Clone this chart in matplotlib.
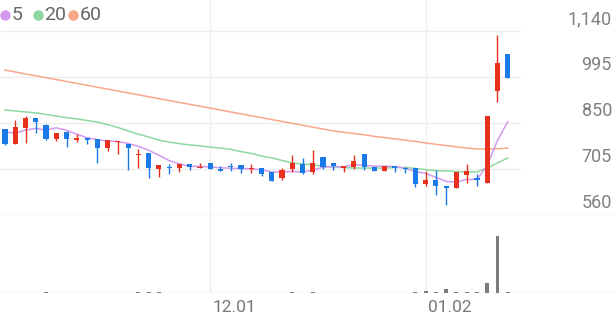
import matplotlib.pyplot as plt
import matplotlib.transforms as mtransforms
import numpy as np

plt.rcParams['font.family'] = ['Roboto', 'DejaVu Sans']

# daily candles, oldest first
opens = [831, 784, 834, 866, 844, 800, 822, 797, 803, 800,
         771, 790, 784, 749, 755, 705, 711, 708, 721, 708,
         724, 705, 715, 718, 705, 708, 696, 677, 705, 721,
         696, 743, 724, 708, 711, 752, 711, 699, 715, 708,
         708, 658, 670, 651, 645, 686, 677, 661, 951, 1067]
highs = [831, 859, 872, 866, 847, 818, 825, 815, 803, 800,
         796, 793, 784, 768, 755, 718, 721, 721, 721, 724,
         724, 715, 724, 718, 721, 708, 696, 708, 749, 740,
         765, 743, 724, 715, 749, 752, 711, 715, 715, 711,
         708, 699, 702, 651, 696, 721, 689, 872, 1127, 1067]
lows = [781, 784, 787, 818, 796, 793, 774, 790, 784, 724,
        762, 752, 702, 708, 677, 680, 689, 696, 702, 708,
        705, 699, 699, 692, 692, 683, 667, 670, 696, 689,
        689, 705, 702, 696, 705, 702, 699, 699, 696, 692,
        648, 651, 623, 592, 645, 661, 651, 661, 917, 992]
closes = [784, 837, 866, 853, 800, 818, 800, 803, 797, 771,
          796, 793, 771, 752, 708, 718, 708, 721, 711, 711,
          705, 699, 711, 705, 708, 689, 667, 702, 724, 692,
          724, 711, 715, 715, 730, 711, 699, 715, 708, 705,
          658, 670, 651, 645, 696, 699, 670, 872, 1039, 992]
volumes = [70, 60, 80, 70, 110, 70, 70, 60, 70, 80,
           70, 60, 70, 100, 110, 90, 60, 70, 60, 60,
           60, 60, 60, 70, 60, 80, 70, 80, 90, 80,
           100, 70, 60, 60, 70, 80, 60, 70, 60, 70,
           170, 270, 130, 400, 170, 100, 100, 1000, 5730, 130]

# moving averages (5-day computed, first four)
ma5_head = [822, 818, 828, 833]
ma20 = [891, 888, 885, 882, 877, 872, 867, 863, 858, 853,
        845, 836, 825, 815, 806, 796, 790, 785, 781, 778,
        774, 771, 767, 760, 754, 746, 740, 732, 724, 721,
        718, 714, 711, 710, 708, 708, 708, 708, 710, 710,
        707, 703, 700, 699, 697, 696, 696, 708, 724, 740]
ma60 = [1017, 1011, 1005, 999, 993, 987, 981, 975, 969, 963,
        957, 951, 945, 939, 933, 927, 921, 915, 909, 903,
        897, 891, 885, 879, 873, 867, 861, 855, 849, 843,
        837, 831, 825, 821, 817, 813, 808, 804, 800, 796,
        792, 787, 783, 779, 775, 771, 768, 768, 769, 771]

price_ticks = [560, 705, 850, 995, 1140]
date_ticks = [20, 41]
date_labels = ['12.01', '01.02']

ma_names = ['5', '20', '60']
ma_colors = ['#d49af0', '#8cd8a0', '#f8a888']
up_color = '#e8301c'
down_color = '#1a7ae8'

n = len(closes)
x = np.arange(n)
o = np.array(opens)
c = np.array(closes)
ma5 = list(ma5_head) + [np.mean(c[i - 4:i + 1]) for i in range(4, n)]

W, H = 616, 321
step = 10.26
xlim = (-5 / step, (W - 5) / step)

fig = plt.figure(figsize=(W / 100, H / 100), dpi=100)
ax = fig.add_axes([0, 1 - 215 / H, 1, 215 / H])
axv = fig.add_axes([0, 1 - 293.3 / H, 1, (293.3 - 215) / H])

for a in (ax, axv):
    a.set_xlim(*xlim)
    for s in a.spines.values():
        s.set_visible(False)
    a.set_xticks([])
    a.set_yticks([])
    for t in date_ticks:
        a.axvline(t, color='#eeeeee', lw=1, zorder=0)

ax.set_ylim(560, 1238)
ax.hlines(price_ticks[1:], xlim[0], 50.3, color='#eeeeee', lw=1, zorder=0)
ax.axhline(560, color='#dddddd', lw=1, zorder=0)

# moving averages
for vals, col in zip([ma60, ma20, ma5], ma_colors[::-1]):
    ax.plot(x, vals, color=col, lw=1.1, zorder=2)

# candles
colors = [up_color if cl >= op else down_color for op, cl in zip(opens, closes)]
ax.vlines(x, lows, highs, color=colors, lw=1, zorder=3)
bottoms = np.minimum(o, c)
heights = np.maximum(np.abs(c - o), 2.5)
ax.bar(x, heights, bottom=bottoms, width=0.5, color=colors, zorder=4)

ytrans = mtransforms.blended_transform_factory(ax.transAxes, ax.transData)
for p in price_ticks:
    ax.text(612 / W, p + 10, f'{p:,}', transform=ytrans, ha='right', va='bottom',
            fontsize=13, color='#808080')

# volume
axv.set_ylim(0, 7830)
axv.bar(x, volumes, width=0.38, color='#7a7a7a', zorder=3)
axv.axhline(0, color='#dddddd', lw=1, zorder=2)
xtrans = mtransforms.blended_transform_factory(axv.transData, axv.transAxes)
for t, lab in zip(date_ticks, date_labels):
    axv.text(t + 0.2, -0.08, lab, transform=xtrans, ha='left', va='top',
             fontsize=12.5, color='#777777')

# legend row: dot + label per moving average
leg_x = [5, 38, 73]
for lx, name, col in zip(leg_x, ma_names, ma_colors):
    ax.plot([lx / W], [1 - 15 / 215], marker='o', markersize=6.5, color=col,
            ls='', transform=ax.transAxes, clip_on=False, zorder=6)
    ax.text((lx + 6.5) / W, 1 - 15 / 215, name, transform=ax.transAxes,
            ha='left', va='center', fontsize=14, color='#666666')

fig.savefig('out.png', dpi=100)
